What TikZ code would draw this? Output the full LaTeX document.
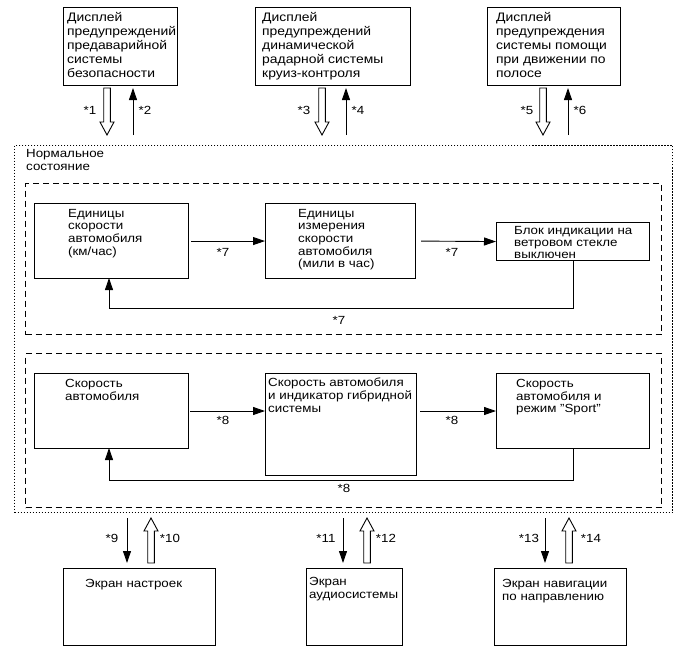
\documentclass[tikz,border=0pt]{standalone}
\usepackage{fontspec}
\setmainfont{Liberation Sans}[FakeStretch=1.13]
\usetikzlibrary{arrows.meta}
\newcommand\myhdown[3]{\draw[hol] ({#1-3.3},#2) -- ({#1-3.3},{#3-13}) -- ({#1-7},{#3-13}) -- (#1,#3) -- ({#1+7},{#3-13}) -- ({#1+3.3},{#3-13}) -- ({#1+3.3},#2) -- cycle;}
\newcommand\myhup[3]{\draw[hol] ({#1-3.3},#2) -- ({#1-3.3},{#3+13}) -- ({#1-7},{#3+13}) -- (#1,#3) -- ({#1+7},{#3+13}) -- ({#1+3.3},{#3+13}) -- ({#1+3.3},#2) -- cycle;}
\tikzset{
  box/.style={draw, line width=1.1pt, inner sep=0, anchor=north west},
  txt/.style={inner sep=0, anchor=north west, align=left, font=\fontsize{11.8}{13.8}\selectfont},
  txtt/.style={txt, font=\fontsize{12.3}{14}\selectfont},
  txtb/.style={txt, font=\fontsize{11.8}{12.6}\selectfont},
  lab/.style={inner sep=0, font=\fontsize{11.8}{13.8}\selectfont},
  fa/.style={line width=0.9pt, -{Triangle[length=12pt,width=8pt]}},
  hol/.style={line width=0.9pt, fill=white, line join=miter},
  dashbox/.style={draw, line width=1pt, dash pattern=on 6pt off 4pt, inner sep=0, anchor=north west},
  dotbox/.style={draw, line width=1pt, dash pattern=on 1.5pt off 1.5pt, inner sep=0, anchor=north west},
}
\begin{document}
\begin{tikzpicture}[x=1pt,y=-1pt]
\useasboundingbox[fill=white] (0,0) rectangle (689,659);
% frames
\node[dotbox, minimum width=658pt, minimum height=367pt] (frame) at (14,145) {};
\node[dashbox, minimum width=636pt, minimum height=151pt] (row1) at (25,183) {};
\node[dashbox, minimum width=636pt, minimum height=154pt] (row2) at (25,353) {};
\node[txt, font=\fontsize{11.8}{13}\selectfont] (normal) at (26,149) {Нормальное\\состояние};
% top boxes
\node[box, minimum width=114pt, minimum height=78pt] (T1) at (63,7) {};
\node[box, minimum width=155pt, minimum height=78pt] (T2) at (255,7) {};
\node[box, minimum width=133pt, minimum height=78pt] (T3) at (487,7) {};
\node[txtt] (t1) at (67,12.5) {Дисплей\\предупреждений\\предаварийной\\системы\\безопасности};
\node[txtt] (t2) at (262,12.5) {Дисплей\\предупреждений\\динамической\\радарной системы\\круиз-контроля};
\node[txtt] (t3) at (496,12.5) {Дисплей\\предупреждения\\системы помощи\\при движении по\\полосе};
% row 1
\node[box, minimum width=154pt, minimum height=75pt] (A) at (34,203) {};
\node[box, minimum width=150pt, minimum height=75pt] (B) at (265,203) {};
\node[box, minimum width=153pt, minimum height=38pt] (C) at (496,222) {};
\node[txtb] (ta) at (68,209) {Единицы\\скорости\\автомобиля\\(км/час)};
\node[txtb] (tb) at (298,209) {Единицы\\измерения\\скорости\\автомобиля\\(мили в час)};
\node[txtb, font=\fontsize{11.8}{12}\selectfont] (tc) at (514,226) {Блок индикации на\\ветровом стекле\\выключен};
% row 2
\node[box, minimum width=154pt, minimum height=75pt] (D) at (34,373) {};
\node[box, minimum width=151pt, minimum height=102pt] (E) at (265,373) {};
\node[box, minimum width=153pt, minimum height=75pt] (F) at (496,373) {};
\node[txtb] (td) at (65,379) {Скорость\\автомобиля};
\node[txtb] (te) at (268,378) {Скорость автомобиля\\и индикатор гибридной\\системы};
\node[txtb] (tf) at (516,379) {Скорость\\автомобиля и\\режим "Sport"};
% bottom boxes
\node[box, minimum width=152pt, minimum height=77pt] (G) at (63,568) {};
\node[box, minimum width=96pt, minimum height=77pt] (H) at (306,568) {};
\node[box, minimum width=132pt, minimum height=77pt] (I) at (494,568) {};
\node[txt] (tg) at (85,579) {Экран настроек};
\node[txt, font=\fontsize{11.8}{13}\selectfont] (th) at (309,577) {Экран\\аудиосистемы};
\node[txt, font=\fontsize{11.8}{13}\selectfont] (ti) at (502,579) {Экран навигации\\по направлению};
% top arrows
\myhdown{107}{88}{135}
\myhdown{322}{88}{135}
\myhdown{543}{88}{135}
\coordinate (u1a) at (133,135); \coordinate (u1b) at (133,88);
\coordinate (u2a) at (346,135); \coordinate (u2b) at (346,88);
\coordinate (u3a) at (568,135); \coordinate (u3b) at (568,88);
\draw[fa] (u1a) -- (u1b);
\draw[fa] (u2a) -- (u2b);
\draw[fa] (u3a) -- (u3b);
\node[lab] (l1) at (90,110) {*1};
\node[lab] (l2) at (145,110) {*2};
\node[lab] (l3) at (304,110) {*3};
\node[lab] (l4) at (358,110) {*4};
\node[lab] (l5) at (527,110) {*5};
\node[lab] (l6) at (580,110) {*6};
% row 1 arrows
\draw[fa, shorten <=2pt] (A.east) -- (B.west);
\draw[fa, shorten <=5pt] (B.east) -- (C.west);
\coordinate (r1L) at (109,308);
\coordinate (r1A) at (109,278);
\draw[fa] (C.south) |- (r1L) -- (r1A);
\node[lab] (l7a) at (223,252) {*7};
\node[lab] (l7b) at (452,252) {*7};
\node[lab] (l7c) at (339,320) {*7};
% row 2 arrows
\coordinate (dE) at (190,411); \coordinate (eW) at (265,411);
\coordinate (eE) at (420,411); \coordinate (fW) at (496,411);
\draw[fa] (dE) -- (eW);
\draw[fa] (eE) -- (fW);
\coordinate (r2L) at (109,480);
\coordinate (r2D) at (109,448);
\draw[fa] (F.south) |- (r2L) -- (r2D);
\node[lab] (l8a) at (223,420) {*8};
\node[lab] (l8b) at (452,420) {*8};
\node[lab] (l8c) at (344,488) {*8};
% bottom arrows
\coordinate (d1a) at (127,518); \coordinate (d1b) at (127,563);
\coordinate (d2a) at (343,518); \coordinate (d2b) at (343,563);
\coordinate (d3a) at (545,518); \coordinate (d3b) at (545,563);
\draw[fa] (d1a) -- (d1b);
\draw[fa] (d2a) -- (d2b);
\draw[fa] (d3a) -- (d3b);
\myhup{151}{563}{518}
\myhup{367}{563}{518}
\myhup{569}{563}{518}
\node[lab] (l9) at (112,538) {*9};
\node[lab] (l10) at (170,538) {*10};
\node[lab] (l11) at (326,538) {*11};
\node[lab] (l12) at (386,538) {*12};
\node[lab] (l13) at (529,538) {*13};
\node[lab] (l14) at (591,538) {*14};
\end{tikzpicture}
\end{document}
